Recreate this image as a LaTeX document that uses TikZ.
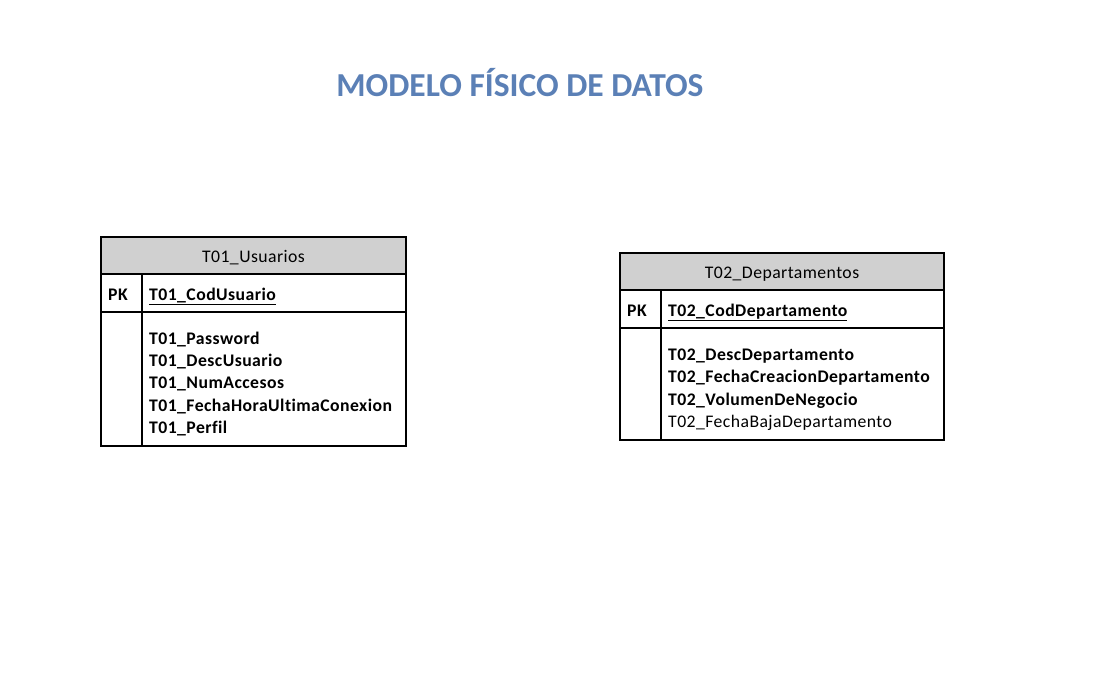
\documentclass[tikz,border=0pt]{standalone}
\usepackage{fontspec}
\setmainfont{Carlito}[Ligatures={NoCommon}]
\definecolor{titleblue}{HTML}{5B80B6}
\definecolor{headgray}{HTML}{D0D0D0}
\begin{document}
\begin{tikzpicture}[x=1pt,y=-1pt,
  cell/.style={draw=black, line width=1.2pt, anchor=north west, inner sep=0pt, outer sep=0pt},
  head/.style={cell, fill=headgray},
  txt/.style={anchor=base west, inner sep=0pt, font=\fontsize{17.7}{20}\selectfont\addfontfeature{LetterSpace=2.5}},
  btxt/.style={txt, font=\fontsize{17.7}{20}\selectfont\bfseries\addfontfeature{LetterSpace=2.5}},
  htxt/.style={anchor=base, inner sep=0pt, font=\fontsize{17.7}{20}\selectfont\addfontfeature{LetterSpace=2.5}}]
\useasboundingbox (0,0) rectangle (1104,684);
\node[anchor=base, inner sep=0pt, text=titleblue, font=\fontsize{33.5}{38}\selectfont\bfseries] (title) at (520,96.5) {MODELO FÍSICO DE DATOS};

% Table 1
\node[head, minimum width=305, minimum height=37] (h1) at (101,237) {};
\node[cell, minimum width=41, minimum height=38] (pk1) at (101,274) {};
\node[cell, minimum width=264, minimum height=38] (pkf1) at (142,274) {};
\node[cell, minimum width=41, minimum height=134] (b1) at (101,312) {};
\node[cell, minimum width=264, minimum height=134] (bf1) at (142,312) {};
\node[htxt] (h1t) at (253.5,263) {T01\_Usuarios};
\node[btxt] (pk1t) at (108,300.5) {PK};
\node[btxt] (pkf1t) at (149,300.5) {\underline{T01\_CodUsuario}};
\node[btxt] (f11) at (149,344.3) {T01\_Password};
\node[btxt] (f12) at (149,366.6) {T01\_DescUsuario};
\node[btxt] (f13) at (149,388.9) {T01\_NumAccesos};
\node[btxt] (f14) at (149,411.2) {T01\_FechaHoraUltimaConexion};
\node[btxt] (f15) at (149,433.5) {T01\_Perfil};

% Table 2
\node[head, minimum width=324, minimum height=37] (h2) at (620,253) {};
\node[cell, minimum width=41, minimum height=38] (pk2) at (620,290) {};
\node[cell, minimum width=283, minimum height=38] (pkf2) at (661,290) {};
\node[cell, minimum width=41, minimum height=112] (b2) at (620,328) {};
\node[cell, minimum width=283, minimum height=112] (bf2) at (661,328) {};
\node[htxt] (h2t) at (782,278.5) {T02\_Departamentos};
\node[btxt] (pk2t) at (627,316.5) {PK};
\node[btxt] (pkf2t) at (668,316.5) {\underline{T02\_CodDepartamento}};
\node[btxt] (f21) at (668,360.8) {T02\_DescDepartamento};
\node[btxt] (f22) at (668,383) {T02\_FechaCreacionDepartamento};
\node[btxt] (f23) at (668,405.2) {T02\_VolumenDeNegocio};
\node[txt] (f24) at (668,427.4) {T02\_FechaBajaDepartamento};
\end{tikzpicture}
\end{document}
